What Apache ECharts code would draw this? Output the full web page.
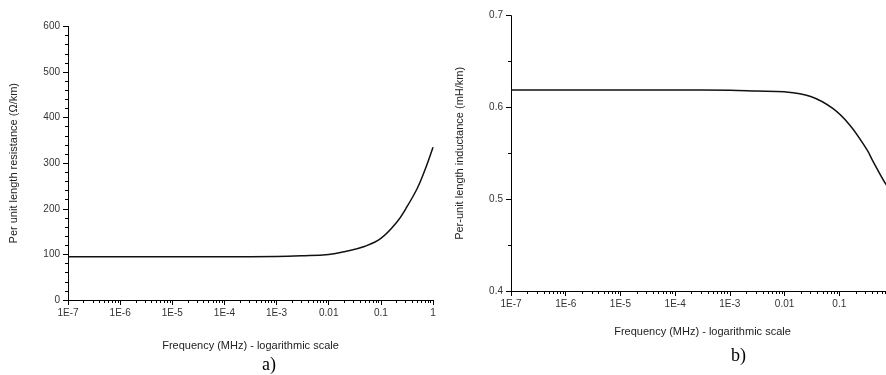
<!DOCTYPE html>
<html><head><meta charset="utf-8">
<script src="https://cdn.jsdelivr.net/npm/echarts@6/dist/echarts.min.js"></script>
<style>html,body{margin:0;padding:0;background:#fff}#c{width:886px;height:375px}</style>
</head><body><div id="c"></div>
<script>
// ---- data ----
var freqR = [1e-7, 1e-6, 1e-5, 1e-4, 1e-3, 3e-3, 0.01, 0.02, 0.05, 0.1, 0.2, 0.3, 0.5, 0.7, 1];
var resistance = [95, 95, 95, 95, 95.5, 97, 100, 106, 118, 135, 170, 200, 245, 285, 335];
var freqL = [1e-7, 1e-6, 1e-5, 1e-4, 1e-3, 3e-3, 0.01, 0.03, 0.076, 0.155, 0.32, 0.4, 0.7, 1];
var inductance = [0.619, 0.619, 0.619, 0.619, 0.6188, 0.618, 0.617, 0.612, 0.599, 0.581, 0.554, 0.543, 0.517, 0.505];
var decadeTicks = [1e-7, 1e-6, 1e-5, 1e-4, 1e-3, 0.01, 0.1, 1];
var decadeLabels = ['1E-7', '1E-6', '1E-5', '1E-4', '1E-3', '0.01', '0.1', '1'];
var minorMultipliers = [2, 3, 4, 5, 6, 7, 8, 9];

var minorTicks = [];
decadeTicks.slice(0, -1).forEach(function (d) {
  minorMultipliers.forEach(function (m) { minorTicks.push(parseFloat((d * m).toPrecision(3))); });
});
function pair(xs, ys) { return xs.map(function (x, i) { return [x, ys[i]]; }); }
function fmtX(v) {
  for (var i = 0; i < decadeTicks.length; i++) {
    if (Math.abs(Math.log10(v) - Math.log10(decadeTicks[i])) < 1e-6) return decadeLabels[i];
  }
  return '';
}
var FONT = 'Liberation Sans, Arial, sans-serif';
var lineStyle = { color: '#000', width: 1 };
function mainX(gi, title, gap) {
  return {
    type: 'log', gridIndex: gi, min: 1e-7, max: 1, logBase: 10,
    axisLine: { show: true, onZero: false, lineStyle: lineStyle },
    axisTick: { show: true, length: 5, lineStyle: lineStyle, customValues: decadeTicks },
    axisLabel: { show: true, customValues: decadeTicks, formatter: fmtX, color: '#333', fontSize: 10, fontFamily: FONT, margin: 8 },
    splitLine: { show: false },
    name: title, nameLocation: 'middle', nameGap: gap,
    nameTextStyle: { color: '#222', fontSize: 11, fontFamily: FONT }
  };
}
function minorX(gi) {
  return {
    type: 'log', gridIndex: gi, min: 1e-7, max: 1, logBase: 10, position: 'bottom',
    axisLine: { show: false },
    axisTick: { show: true, length: 3, lineStyle: lineStyle, customValues: minorTicks },
    axisLabel: { show: false },
    splitLine: { show: false }
  };
}
var serif = { fontFamily: 'Liberation Serif, Times New Roman, serif', fontWeight: 'normal', fontSize: 18, color: '#000' };
var option = {
  animation: false,
  title: [
    { text: 'a)', left: 262, top: 356, textStyle: serif, padding: 0 },
    { text: 'b)', left: 731, top: 347, textStyle: serif, padding: 0 }
  ],
  grid: [
    { left: 68, top: 26.4, width: 365, height: 273.6, outerBoundsMode: 'none', containLabel: false },
    { left: 511, top: 15.7, width: 383, height: 275.3, outerBoundsMode: 'none', containLabel: false }
  ],
  xAxis: [
    mainX(0, 'Frequency (MHz) - logarithmic scale', 40),
    mainX(1, 'Frequency (MHz) - logarithmic scale', 35),
    minorX(0),
    minorX(1)
  ],
  yAxis: [
    {
      type: 'value', gridIndex: 0, min: 0, max: 600, interval: 100,
      axisLine: { show: true, lineStyle: lineStyle },
      axisTick: { show: true, length: 5, lineStyle: lineStyle },
      minorTick: { show: true, splitNumber: 5, length: 3, lineStyle: lineStyle },
      axisLabel: { color: '#333', fontSize: 10, fontFamily: FONT, margin: 8 },
      splitLine: { show: false },
      name: 'Per unit length resistance (\u03a9/km)', nameLocation: 'middle', nameGap: 49,
      nameTextStyle: { color: '#222', fontSize: 11, fontFamily: FONT }
    },
    {
      type: 'value', gridIndex: 1, min: 0.4, max: 0.7, interval: 0.1,
      axisLine: { show: true, lineStyle: lineStyle },
      axisTick: { show: true, length: 5, lineStyle: lineStyle },
      minorTick: { show: true, splitNumber: 2, length: 3, lineStyle: lineStyle },
      axisLabel: { color: '#333', fontSize: 10, fontFamily: FONT, margin: 8, formatter: function (v) { return v.toFixed(1); } },
      splitLine: { show: false },
      name: 'Per-unit length inductance (mH/km)', nameLocation: 'middle', nameGap: 46,
      nameTextStyle: { color: '#222', fontSize: 11, fontFamily: FONT }
    }
  ],
  series: [
    { type: 'line', xAxisIndex: 0, yAxisIndex: 0, data: pair(freqR, resistance), smooth: 0.4, showSymbol: false, lineStyle: { color: '#111', width: 1.5 } },
    { type: 'line', xAxisIndex: 1, yAxisIndex: 1, data: pair(freqL, inductance), smooth: 0.4, showSymbol: false, lineStyle: { color: '#111', width: 1.5 } }
  ]
};
echarts.init(document.getElementById('c'), null, { renderer: 'canvas' }).setOption(option);
</script>
</body></html>
